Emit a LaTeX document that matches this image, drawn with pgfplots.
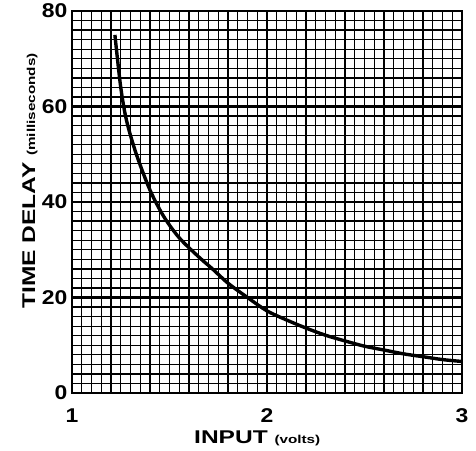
\documentclass[border=0pt]{standalone}
\usepackage{fontspec}
\setmainfont{Liberation Sans}
\newfontfamily\widefont[FakeStretch=1.33]{Liberation Sans}
\newfontfamily\tickfont[FakeStretch=1.15]{Liberation Sans}
\usepackage{pgfplots}
\pgfplotsset{compat=1.18}
\begin{document}
\begin{tikzpicture}
\path[use as bounding box] (-72bp,-58bp) rectangle (404bp,393bp);
\begin{axis}[
 at={(0,0)}, anchor=south west,
 scale only axis, width=390bp, height=382bp,
 xmin=1, xmax=3, ymin=0, ymax=80,
 xtick={1,2,3}, ytick={0,20,40,60,80},
 minor x tick num=19, minor y tick num=9,
 xmajorgrids=false, ymajorgrids=true, xminorgrids=true, yminorgrids=true,
 extra x ticks={2}, extra x tick labels={},
 extra x tick style={xmajorgrids=true, major grid style={line width=1.8bp, black}},
 major grid style={line width=2.6bp, black},
 minor grid style={line width=1.3bp, black},
 axis line style={line width=2.8bp},
 major tick length=0pt, minor tick length=0pt,
 /pgf/number format/assume math mode=true,
 ticklabel style={font=\tickfont\fontsize{20}{20}\selectfont\bfseries},
 xticklabel style={yshift=-12bp}, yticklabel style={xshift=-1bp},
 xlabel={\widefont\fontsize{18.5}{18.5}\selectfont\bfseries INPUT \fontsize{11.5}{11.5}\selectfont (volts)},
 ylabel={\widefont\fontsize{18.5}{18.5}\selectfont\bfseries TIME DELAY \fontsize{11.5}{11.5}\selectfont (milliseconds)},
 ylabel style={at={(axis description cs:-0.108,0.555)}, anchor=center},
 xlabel style={at={(axis description cs:0.475,0)}, anchor=center, yshift=-45bp},
 ]
\addplot[black, line width=3.4bp, smooth] coordinates {
(1.22,75) (1.25,64) (1.28,57) (1.33,50) (1.40,42.5) (1.47,37) (1.55,32.5)
(1.65,28.5) (1.72,26) (1.80,23) (1.90,20) (2.00,17.2) (2.10,15.3) (2.20,13.6)
(2.30,12.1) (2.40,10.9) (2.50,9.8) (2.60,9.0) (2.70,8.2) (2.80,7.6) (2.90,7.0) (3.00,6.6)
};
\end{axis}
\end{tikzpicture}
\end{document}
